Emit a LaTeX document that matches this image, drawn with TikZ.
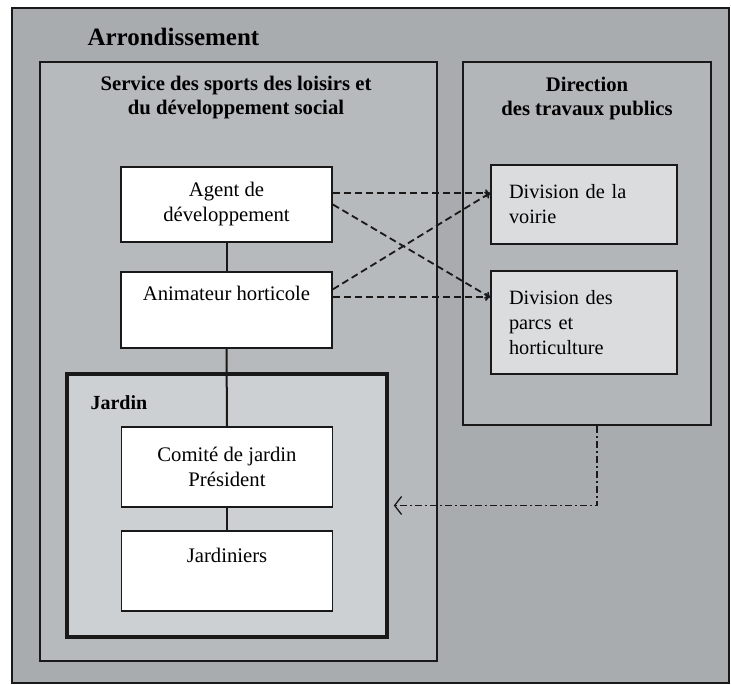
\documentclass[tikz,border=0pt]{standalone}
\usepackage{fontspec}
\setmainfont{Liberation Serif}
\usetikzlibrary{arrows.meta}

\definecolor{arrgray}{RGB}{168,172,174}
\definecolor{servgray}{RGB}{182,186,188}
\definecolor{dirgray}{RGB}{178,182,184}
\definecolor{jardgray}{RGB}{204,208,210}
\definecolor{divgray}{RGB}{218,220,221}
\definecolor{ink}{RGB}{25,25,25}

\begin{document}
\begin{tikzpicture}[x=1pt, y=-1pt,
    frame/.style={draw=ink, line width=2pt, inner sep=0pt},
    whitebox/.style={draw=ink, line width=1.8pt, fill=white, minimum width=211pt, inner sep=0pt, align=center, font=\fontsize{20.7}{25}\selectfont},
    divbox/.style={draw=ink, line width=1.8pt, fill=divgray, minimum width=186pt, text width=150pt, inner xsep=18pt, inner ysep=0pt, align=left, font=\fontsize{20.3}{25}\selectfont},
    boxtext/.style={font=\fontsize{20.7}{25}\selectfont},
    heading/.style={font=\bfseries\fontsize{20.7}{24.5}\selectfont, align=center},
    link/.style={draw=ink, line width=2pt},
    liaison/.style={-{To[length=5pt, width=8pt]}, draw=ink, dash pattern=on 7pt off 4pt, line width=1.8pt},
    support/.style={-{Straight Barb[length=7pt, width=18pt]}, draw=ink, dash pattern=on 7pt off 3pt on 2pt off 3pt, line width=1.3pt}
]
    \fill[white] (0,0) rectangle (731,685);
    \useasboundingbox (0,0) rectangle (731,685);

    \node[frame, fill=arrgray, minimum width=717pt, minimum height=675pt] (arr) at (370.5,345.5) {};
    \node[frame, fill=servgray, minimum width=397pt, minimum height=599pt] (service) at (238.5,361.5) {};
    \node[frame, fill=dirgray, minimum width=248pt, minimum height=363pt] (direction) at (587,243.5) {};
    \node[frame, fill=jardgray, line width=3.5pt, minimum width=320pt, minimum height=263pt] (jardin) at (227,505.5) {};

    \node[anchor=west, font=\bfseries\fontsize{25}{29}\selectfont] (arrlabel) at (84,37) {Arrondissement};
    \node[heading] (servlabel) at (236,97.5) {Service des sports des loisirs et\\du développement social};
    \node[heading] (dirlabel) at (587,98.5) {Direction\\des travaux publics};
    \node[anchor=west, font=\bfseries\fontsize{20}{23}\selectfont] (jardlabel) at (87,403) {Jardin};

    \node[whitebox, minimum height=75pt] (agent) at (226.5,204.5) {Agent de\\développement};
    \node[whitebox, minimum height=76pt] (anim) at (226.5,310) {};
    \node[boxtext] (animtext) at (226.5,293) {Animateur horticole};
    \node[whitebox, minimum height=80pt] (comite) at (227,467) {Comité de jardin\\Président};
    \node[whitebox, minimum height=80pt] (jardiniers) at (227,571) {};
    \node[boxtext] (jardtext) at (227,555) {Jardiniers};

    \node[divbox, minimum height=79pt] (voirie) at (584,204.5) {Division de la\\voirie};
    \node[divbox, minimum height=103pt] (parcs) at (584,322.5) {Division des\\parcs et\\horticulture};

    \draw[link] (agent.south) -- (anim.north);
    \draw[link] (anim.south) -- (comite.north);
    \draw[link] (comite.south) -- (jardiniers.north);

    \draw[liaison] (agent.6) -- (agent.6 -| voirie.west);
    \draw[liaison] (agent.east) -- (parcs.165);
    \draw[liaison] (anim.11) -- (voirie.173);
    \draw[liaison] (anim.7) -- (anim.7 -| parcs.west);

    \draw[support] ([xshift=10pt]direction.south) |- ([xshift=5pt]jardin.east);
\end{tikzpicture}
\end{document}
